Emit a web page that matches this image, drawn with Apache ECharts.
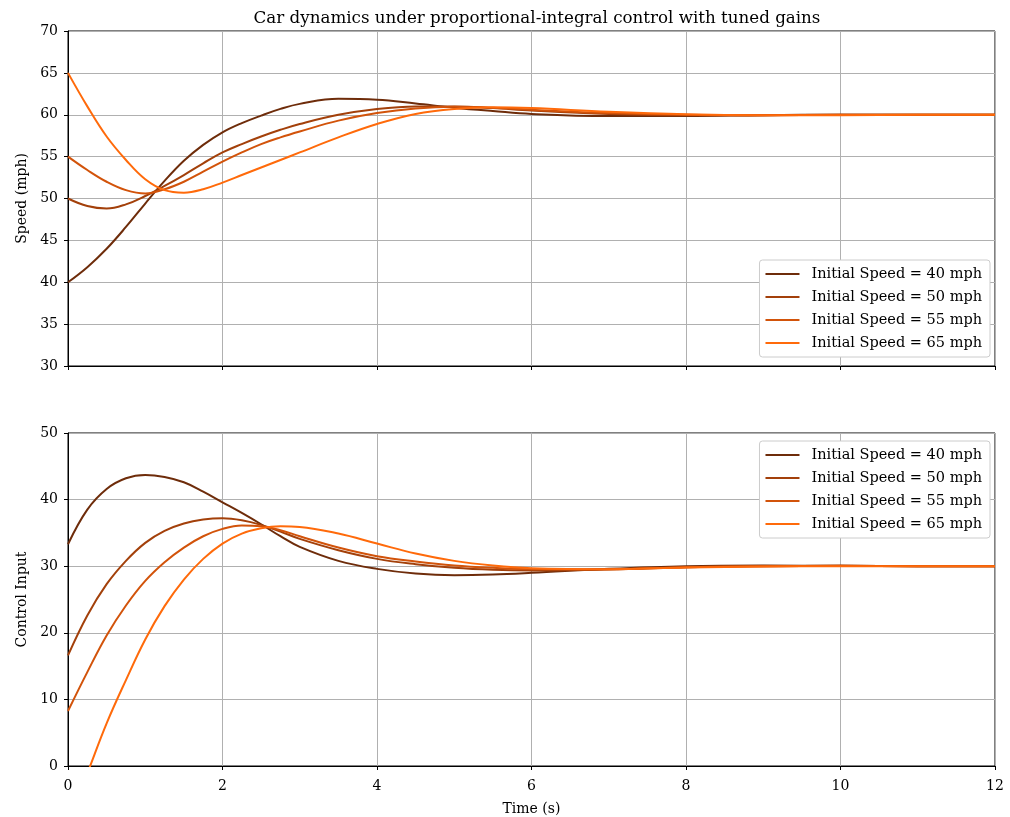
<!DOCTYPE html>
<html>
<head>
<meta charset="utf-8">
<script src="https://cdn.jsdelivr.net/npm/echarts@6/dist/echarts.min.js"></script>
<style>html,body{margin:0;padding:0;background:#fff}#c{width:1010px;height:817px}</style>
</head>
<body>
<div id="c"></div>
<script>
const times = [0,0.25,0.5,0.75,1,1.25,1.5,1.75,2,2.25,2.5,2.75,3,3.5,4,4.5,5,5.5,6,7,8,9,10,11,12];
const seriesNames = ['Initial Speed = 40 mph','Initial Speed = 50 mph','Initial Speed = 55 mph','Initial Speed = 65 mph'];
const colors = ['#6e2c0a','#a3400a','#d2530a','#ff6a0a'];
const speed40 = [40,41.8,44.0,46.6,49.4,52.1,54.5,56.4,57.9,59.0,59.9,60.7,61.3,61.9,61.8,61.35,60.85,60.45,60.1,59.85,59.85,59.95,60,60,60];
const speed50 = [50,49.1,48.8,49.3,50.3,51.5,52.8,54.2,55.5,56.5,57.4,58.2,58.9,60.0,60.7,61.0,61.0,60.8,60.5,60.1,59.95,59.95,60,60,60];
const speed55 = [55,53.4,52.0,51.0,50.6,51.1,52.0,53.2,54.4,55.5,56.5,57.3,58.0,59.3,60.2,60.75,60.95,60.85,60.6,60.2,60.0,59.95,60,60,60];
const speed65 = [65,61.0,57.4,54.6,52.3,51.0,50.7,51.1,51.9,52.8,53.7,54.6,55.5,57.3,58.9,60.1,60.7,60.9,60.8,60.35,60.05,59.95,59.95,60,60];
const ctrl40 = [33.3,38.5,41.6,43.2,43.7,43.4,42.6,41.2,39.6,38.0,36.3,34.5,32.9,30.8,29.6,28.9,28.65,28.75,29.0,29.6,30.0,30.1,30.05,30,30];
const ctrl50 = [16.6,22.6,27.3,30.8,33.5,35.3,36.4,37.0,37.2,36.9,36.2,35.2,34.1,32.4,31.1,30.3,29.75,29.45,29.35,29.5,29.85,30.0,30.05,30,30];
const ctrl55 = [8.25,14.1,19.6,24.1,27.8,30.6,32.8,34.5,35.6,36.1,36.0,35.4,34.5,32.8,31.5,30.7,30.1,29.75,29.55,29.55,29.85,30.0,30.05,30,30];
const ctrl65 = [-8.4,-1.1,6.4,12.9,19.0,24.0,28.0,31.1,33.4,34.9,35.7,36.0,35.9,34.9,33.4,31.9,30.8,30.1,29.7,29.55,29.8,29.95,30.0,30,30];
const xTicks = [0,2,4,6,8,10,12];

const FONT = 'DejaVu Serif';
const speeds = [speed40, speed50, speed55, speed65];
const ctrls = [ctrl40, ctrl50, ctrl55, ctrl65];
const pair = arr => times.map((t,i)=>[t, arr[i]]);

function xAxis(gi, showLabel){
  return {
    type:'value', gridIndex:gi, min:xTicks[0], max:xTicks[xTicks.length-1], interval:2,
    axisLine:{show:true, onZero:false, lineStyle:{color:'#000', width:1}},
    axisTick:{show:true, inside:false, length:4, lineStyle:{color:'#000'}},
    axisLabel:{show:showLabel, color:'#000', fontSize:14, fontFamily:FONT, margin:13},
    splitLine:{show:true, lineStyle:{color:'#b0b0b0', width:1}},
    name: showLabel ? 'Time (s)' : '', nameLocation:'middle', nameGap:36,
    nameTextStyle:{color:'#000', fontSize:14, fontFamily:FONT}
  };
}
function yAxis(gi, min, max, interval, name){
  return {
    type:'value', gridIndex:gi, min:min, max:max, interval:interval,
    axisLine:{show:true, onZero:false, lineStyle:{color:'#000', width:1}},
    axisTick:{show:true, inside:false, length:4, lineStyle:{color:'#000'}},
    axisLabel:{color:'#000', fontSize:14, fontFamily:FONT, margin:10},
    splitLine:{show:true, lineStyle:{color:'#b0b0b0', width:1}},
    name:name, nameLocation:'middle', nameGap:36, nameRotate:90,
    nameTextStyle:{color:'#000', fontSize:14, fontFamily:FONT}
  };
}
const series = [];
seriesNames.forEach((n,i)=>{
  series.push({name:n, type:'line', xAxisIndex:0, yAxisIndex:0, data:pair(speeds[i]), smooth:0.4, showSymbol:false, clip:true, color:colors[i], lineStyle:{width:2, color:colors[i]}});
});
seriesNames.forEach((n,i)=>{
  series.push({name:n, type:'line', xAxisIndex:1, yAxisIndex:1, data:pair(ctrls[i]), smooth:0.4, showSymbol:false, clip:true, color:colors[i], lineStyle:{width:2, color:colors[i]}});
});
const legendBase = {
  orient:'vertical', right:20, data:seriesNames, icon:'rect', itemWidth:34, itemHeight:2, itemGap:7,
  backgroundColor:'#fff', borderColor:'#cccccc', borderWidth:1, borderRadius:3, padding:[6,8,6,6],
  textStyle:{color:'#000', fontSize:14.5, fontFamily:FONT, lineHeight:16, padding:[0,0,0,7]}
};
const chart = echarts.init(document.getElementById('c'), null, {renderer:'canvas'});
chart.setOption({
  animation:false,
  backgroundColor:'#fff',
  title:{text:'Car dynamics under proportional-integral control with tuned gains', left:532, textAlign:'center', top:5,
    textStyle:{color:'#000', fontSize:16.7, fontWeight:'normal', fontFamily:FONT}},
  grid:[
    {left:68, top:31, width:927, height:335, show:true, borderColor:'#000', borderWidth:1, backgroundColor:'transparent'},
    {left:68, top:433, width:927, height:335, show:true, borderColor:'#000', borderWidth:1, backgroundColor:'transparent'}
  ],
  xAxis:[xAxis(0,false), xAxis(1,true)],
  yAxis:[yAxis(0,30,70,5,'Speed (mph)'), yAxis(1,0,50,10,'Control Input')],
  legend:[
    Object.assign({}, legendBase, {top:260}),
    Object.assign({}, legendBase, {top:441})
  ],
  series:series
});
</script>
</body>
</html>
